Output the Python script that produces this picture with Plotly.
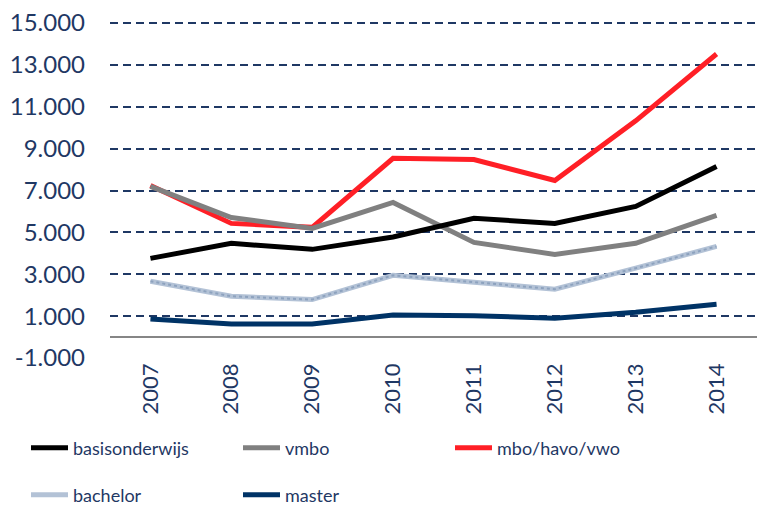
import plotly.graph_objects as go

years = ["2007", "2008", "2009", "2010", "2011", "2012", "2013", "2014"]

basisonderwijs = [3760, 4480, 4190, 4780, 5670, 5430, 6240, 8150]
vmbo = [7200, 5710, 5190, 6430, 4520, 3950, 4480, 5810]
mbo_havo_vwo = [7240, 5430, 5240, 8540, 8480, 7480, 10330, 13520]
bachelor = [2670, 1950, 1790, 2950, 2620, 2290, 3290, 4330]
master = [860, 620, 620, 1050, 1020, 900, 1190, 1570]

y_ticks = [-1000, 1000, 3000, 5000, 7000, 9000, 11000, 13000, 15000]
y_labels = ["-1.000", "1.000", "3.000", "5.000", "7.000", "9.000", "11.000", "13.000", "15.000"]

NAVY = "#1F3864"
FONT = "Lato"

W, H = 757, 506

series = [
    ("basisonderwijs", basisonderwijs, "#000000", "legend"),
    ("vmbo", vmbo, "#808080", "legend"),
    ("mbo/havo/vwo", mbo_havo_vwo, "#FF1F26", "legend"),
    ("bachelor", bachelor, "#B3C2D6", "legend2"),
    ("master", master, "#003366", "legend2"),
]

fig = go.Figure()
# draw in reverse so red/black sit on top like the original
for name, vals, color, leg in series[::-1]:
    fig.add_trace(go.Scatter(
        x=years, y=vals, name=name, mode="lines",
        line=dict(color=color, width=5),
        legend=leg,
    ))
    if name == "bachelor":
        # fake the hatched texture of the original
        fig.add_trace(go.Scatter(
            x=years, y=vals, mode="lines", showlegend=False, hoverinfo="skip",
            line=dict(color="#8DA2BE", width=2, dash="dot"),
        ))

legend_common = dict(
    orientation="h", xref="container", yref="container",
    xanchor="left", yanchor="middle",
    entrywidth=160, entrywidthmode="pixels",
    itemwidth=37, traceorder="reversed",
    font=dict(family=FONT, size=18, color=NAVY),
    bgcolor="rgba(0,0,0,0)",
)

fig.update_layout(
    width=W, height=H,
    margin=dict(l=110, r=0, t=22, b=148, autoexpand=False),
    paper_bgcolor="white", plot_bgcolor="white",
    font=dict(family=FONT, color=NAVY),
    showlegend=True,
    legend=dict(x=26 / W, y=1 - 448 / H, **legend_common),
    legend2=dict(x=26 / W, y=1 - 495 / H, **legend_common),
    xaxis=dict(
        type="category", range=[-0.5, 7.5], automargin=False,
        showgrid=False, showline=False, ticks="",
        tickangle=-90,
        tickfont=dict(family=FONT, size=22, color=NAVY),
    ),
    yaxis=dict(
        range=[-1000, 15050], automargin=False,
        tickvals=y_ticks, ticktext=y_labels,
        showgrid=True, gridcolor=NAVY, griddash="8px,5px", gridwidth=1.5,
        zeroline=True, zerolinecolor="#868686", zerolinewidth=2,
        showline=False, ticks="",
        ticklabelstandoff=24,
        tickfont=dict(family=FONT, size=24, color=NAVY),
    ),
)

# drop the default 8px body margin so the figure fills the window exactly
fig.write_html("out.html", config={"displayModeBar": False},
               post_script="document.body.style.margin='0px';")
